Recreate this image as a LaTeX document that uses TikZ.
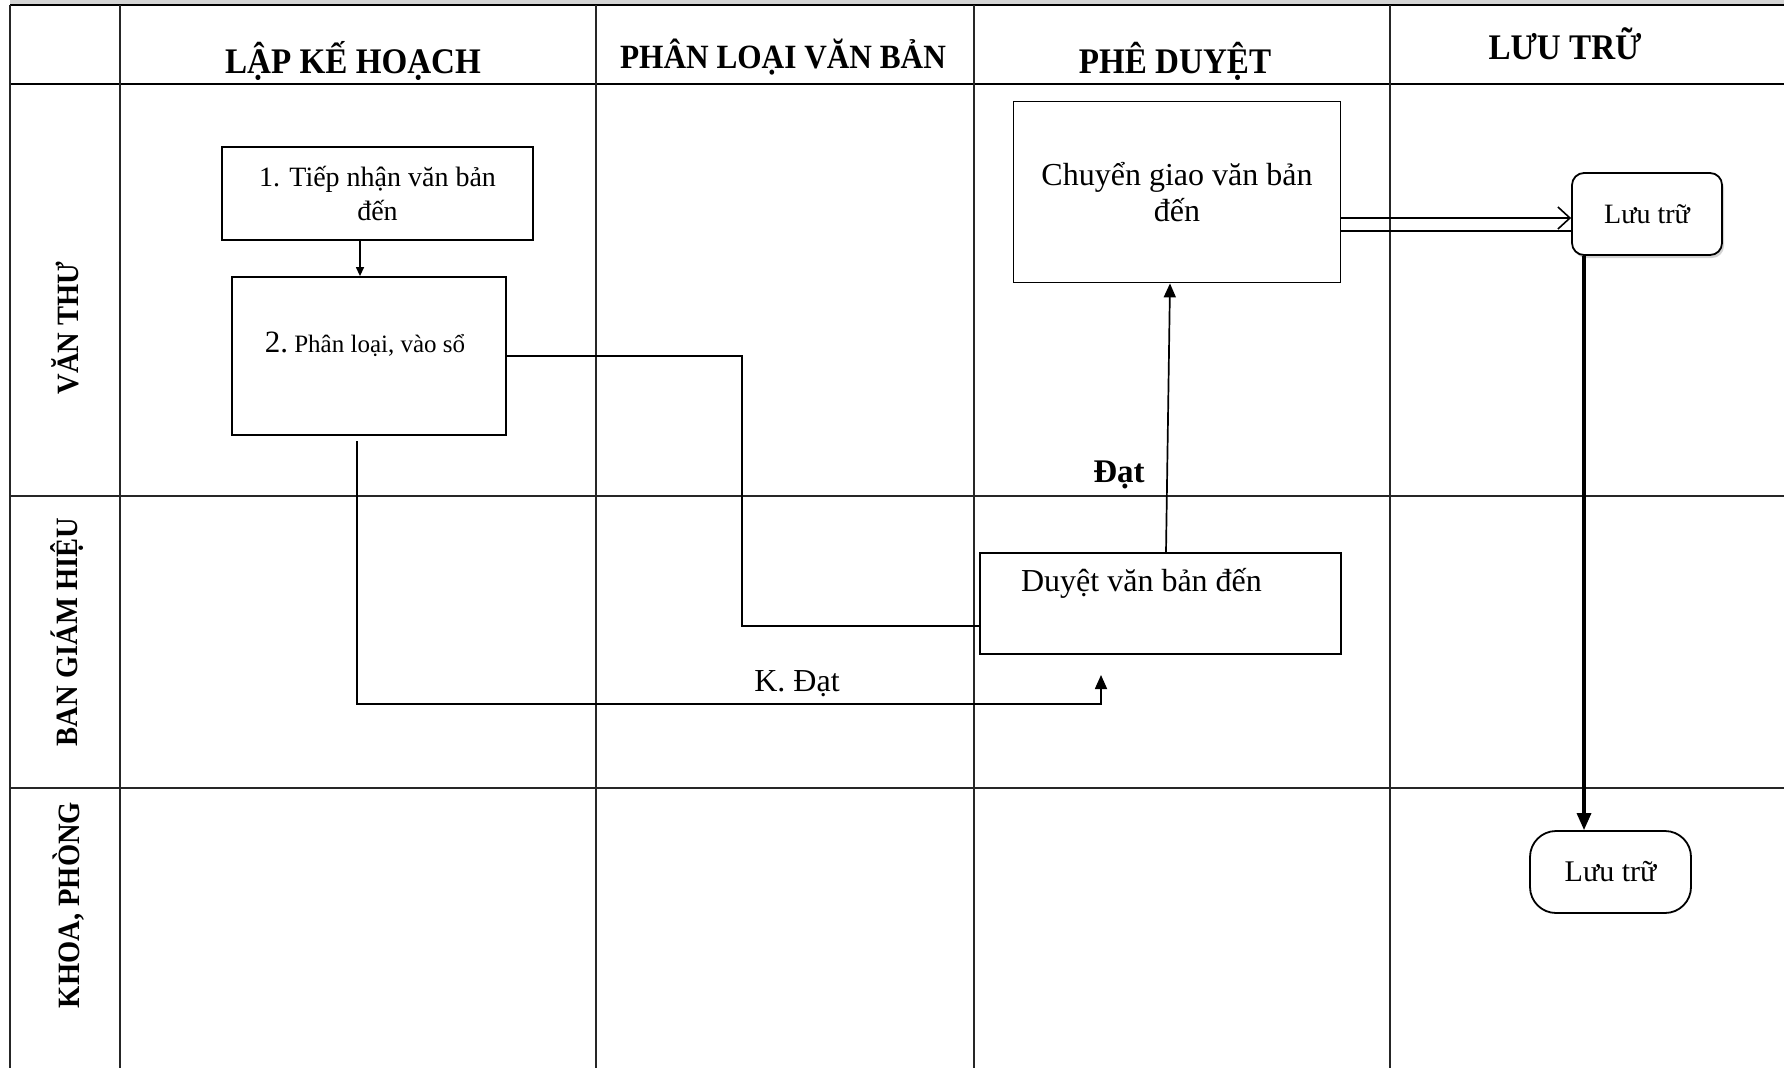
\documentclass[tikz,border=0pt]{standalone}
\usepackage{fontspec}
\setmainfont{Liberation Serif}
\newfontfamily\hdfont[FakeStretch=0.92]{Liberation Serif}
\usetikzlibrary{arrows.meta,shadows}
\begin{document}
\begin{tikzpicture}[x=1pt,y=-1pt,
  gridline/.style={line width=1.4pt, black!85},
  heavyline/.style={line width=2.4pt, black},
  box/.style={draw, line width=1.8pt, rectangle, inner sep=0pt},
  hdr/.style={font=\hdfont\bfseries\fontsize{36}{40}\selectfont, anchor=base},
  lane/.style={font=\hdfont\bfseries\fontsize{31}{34}\selectfont, rotate=90},
  body/.style={font=\fontsize{32}{36}\selectfont, align=center},
  conn/.style={line width=1.7pt},
  bigtip/.style={-{Triangle[length=14pt,width=12pt]}},
  smalltip/.style={-{Triangle[length=9pt,width=8pt]}},
  opentip/.style={-{Straight Barb[length=12pt,width=22pt,line width=1.6pt]}},
]
\useasboundingbox (0,0) rectangle (1784,1068);
% top grey strip
\fill[black!17] (10,0) rectangle (1784,5);
% grid
\draw[heavyline] (10,5) -- (1784,5);
\draw[heavyline] (10,84) -- (1784,84);
\draw[gridline] (10,5) -- (10,1068);
\foreach \xx in {120,596,974,1390} \draw[gridline] (\xx,5) -- (\xx,1068);
\draw[gridline] (10,496) -- (1784,496);
\draw[gridline] (10,788) -- (1784,788);

% headers
\node[hdr] (h1) at (353,73) {LẬP KẾ HOẠCH};
\node[hdr, font=\hdfont\bfseries\fontsize{34}{38}\selectfont] (h2) at (783,68) {PHÂN LOẠI VĂN BẢN};
\node[hdr] (h3) at (1175,73) {PHÊ DUYỆT};
\node[hdr] (h4) at (1565,59) {LƯU TRỮ};

% lanes
\node[lane] (l1) at (65,328) {VĂN THƯ};
\node[lane] (l2) at (67,632) {BAN GIÁM HIỆU};
\node[lane] (l3) at (69,905) {KHOA, PHÒNG};

% boxes
\node[box, body, font=\fontsize{28}{34}\selectfont, minimum width=311pt, minimum height=93pt] (b1) at (377.5,193.5) {1. Tiếp nhận văn bản\\đến};
\node[box, minimum width=274pt, minimum height=158pt] (b2) at (369,356) {};
\node (b2t) at ([xshift=-4pt,yshift=12pt]b2.center) {\fontsize{31}{34}\selectfont 2.\fontsize{25}{30}\selectfont\ Phân loại, vào sổ};
\node[box, body, minimum width=327pt, minimum height=181pt] (c) at (1177,192) {Chuyển giao văn bản\\đến};
\node[box, minimum width=361pt, minimum height=101pt] (d) at (1160.5,603.5) {};
\node[body] (dt) at ([xshift=-19pt,yshift=20pt]d.center) {Duyệt văn bản đến};
\node[draw, line width=1.8pt, rounded corners=12pt, fill=white, minimum width=150pt, minimum height=82pt,
      drop shadow={shadow xshift=2pt, shadow yshift=-3pt, opacity=0.35}, font=\fontsize{28}{32}\selectfont] (lt) at (1647,214) {Lưu trữ};
\node[draw, line width=1.8pt, rounded corners=26pt, minimum width=161pt, minimum height=82pt,
      font=\fontsize{30}{34}\selectfont] (lb) at (1610.5,872) {Lưu trữ};

% connectors
\draw[conn, line width=1.3pt, smalltip] (b1.south -| 360,0) -- (b2.north -| 360,0);
\draw[conn] (b2.east) -| (742,626) -- (d.west |- 742,626);
\coordinate (k0) at (357,441);
\coordinate (k1) at (1101,675);
\draw[conn, bigtip] (k0) -- (357,704) -| (k1);
\node[font=\fontsize{32}{36}\selectfont] (kd) at (797,684) {K. Đạt};
\draw[conn, bigtip] (d.north -| 1166,0) -- (c.south -| 1170,0);
\node[font=\bfseries\fontsize{33}{36}\selectfont] (dat) at (1119,475) {Đạt};
\draw[conn, opentip] (c.east |- 0,218) -- (lt.west |- 0,218);
\draw[conn] (c.east |- 0,231) -- (lt.west |- 0,231);
\draw[line width=3.2pt, -{Triangle[length=17pt,width=14pt]}] (lt.south -| 1584,0) -- (lb.north -| 1584,0);
\end{tikzpicture}
\end{document}
